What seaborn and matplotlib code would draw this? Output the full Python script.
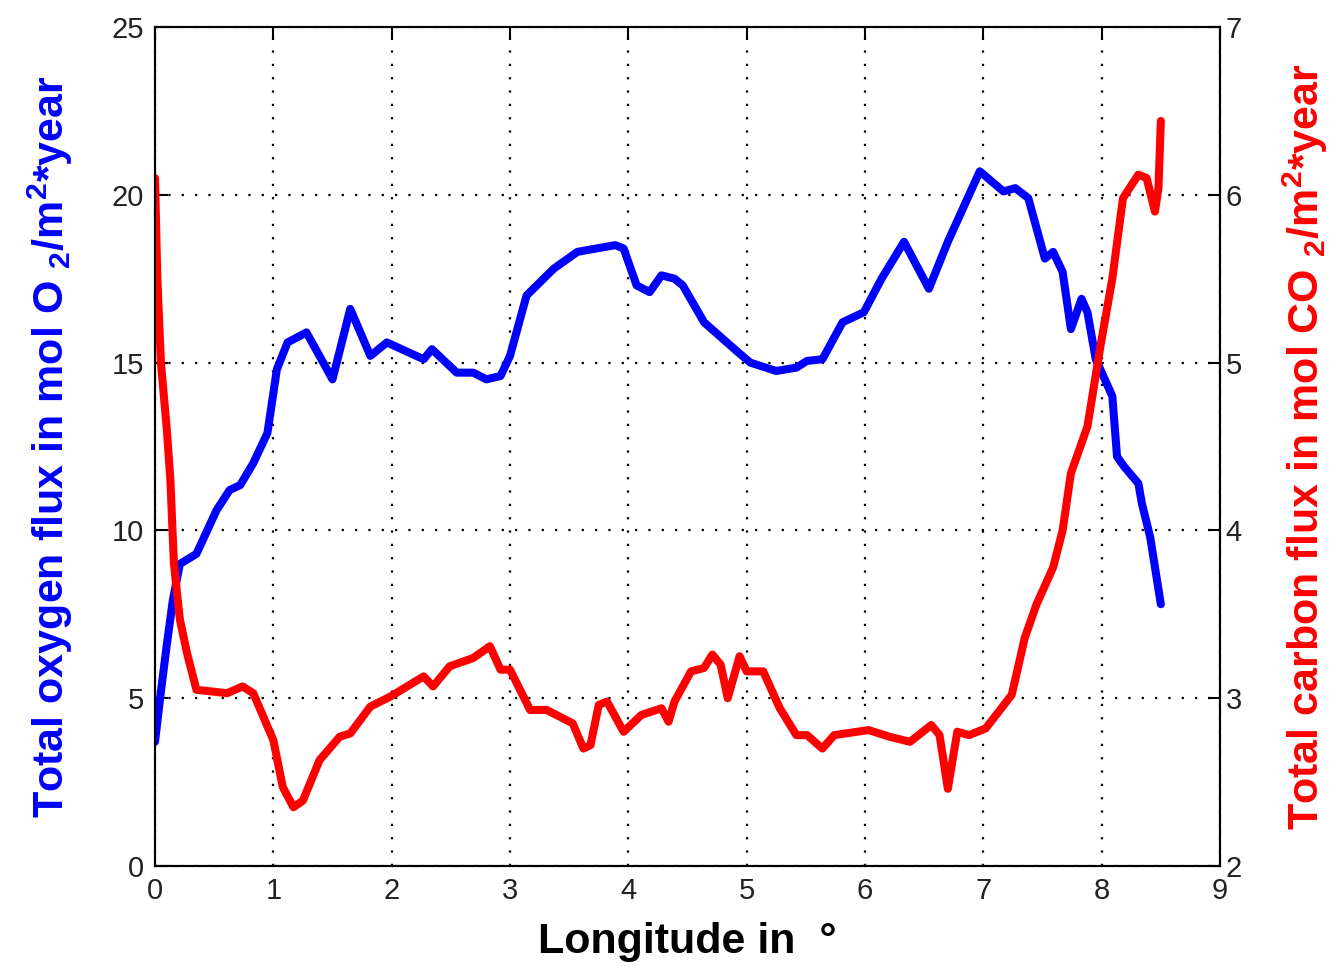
import matplotlib
matplotlib.use("Agg")
import matplotlib.pyplot as plt
import seaborn as sns
import pandas as pd

# ---- data ----
oxy_lon = [0, 0.05, 0.10, 0.15, 0.21, 0.35, 0.52, 0.63, 0.72, 0.83, 0.95, 1.03, 1.12, 1.28,
           1.50, 1.65, 1.82, 1.96, 2.27, 2.34, 2.55, 2.69, 2.80, 2.92, 3.0, 3.14, 3.37, 3.57,
           3.89, 3.96, 4.07, 4.18, 4.28, 4.39, 4.46, 4.64, 4.93, 5.03, 5.25, 5.42, 5.51, 5.64,
           5.81, 5.99, 6.14, 6.33, 6.54, 6.70, 6.97, 7.17, 7.27, 7.38, 7.52, 7.59, 7.67, 7.74,
           7.83, 7.88, 7.95, 8.09, 8.13, 8.19, 8.31, 8.34, 8.41, 8.50]
oxy_flux = [3.7, 5.2, 6.6, 7.9, 9.0, 9.3, 10.6, 11.2, 11.35, 12.0, 12.9, 14.8, 15.6, 15.9,
            14.5, 16.6, 15.2, 15.6, 15.1, 15.4, 14.7, 14.7, 14.5, 14.6, 15.2, 17.0, 17.8, 18.3,
            18.5, 18.4, 17.3, 17.1, 17.6, 17.5, 17.3, 16.2, 15.3, 15.0, 14.75, 14.85, 15.05, 15.1,
            16.2, 16.5, 17.5, 18.6, 17.2, 18.6, 20.7, 20.1, 20.2, 19.9, 18.1, 18.3, 17.7, 16.0,
            16.9, 16.5, 15.1, 14.0, 12.2, 11.9, 11.4, 10.8, 9.8, 7.8]

carb_lon = [0, 0.02, 0.05, 0.10, 0.13, 0.16, 0.21, 0.27, 0.35, 0.61, 0.74, 0.83, 1.0, 1.08,
            1.17, 1.25, 1.39, 1.56, 1.65, 1.82, 1.99, 2.27, 2.35, 2.49, 2.69, 2.83, 2.92, 3.0,
            3.17, 3.31, 3.53, 3.62, 3.68, 3.75, 3.82, 3.96, 4.11, 4.28, 4.34, 4.39, 4.53, 4.64,
            4.71, 4.78, 4.84, 4.94, 5.0, 5.14, 5.28, 5.42, 5.51, 5.64, 5.74, 6.03, 6.21, 6.38,
            6.56, 6.63, 6.70, 6.78, 6.88, 7.02, 7.13, 7.24, 7.35, 7.45, 7.59, 7.67, 7.74, 7.88,
            7.99, 8.09, 8.18, 8.31, 8.38, 8.45, 8.48, 8.50]
carb_flux = [6.1, 5.5, 5.0, 4.6, 4.3, 3.8, 3.47, 3.27, 3.05, 3.03, 3.07, 3.03, 2.75, 2.47,
             2.35, 2.39, 2.63, 2.77, 2.79, 2.95, 3.01, 3.13, 3.07, 3.19, 3.24, 3.31, 3.17, 3.17,
             2.93, 2.93, 2.85, 2.70, 2.72, 2.96, 2.98, 2.80, 2.90, 2.94, 2.86, 2.98, 3.16, 3.18,
             3.26, 3.20, 3.00, 3.25, 3.16, 3.16, 2.94, 2.78, 2.78, 2.70, 2.78, 2.81, 2.77, 2.74,
             2.84, 2.78, 2.46, 2.80, 2.78, 2.82, 2.92, 3.02, 3.36, 3.56, 3.78, 4.0, 4.34, 4.62,
             5.1, 5.5, 5.98, 6.12, 6.10, 5.90, 6.04, 6.44]

x_ticks = [0, 1, 2, 3, 4, 5, 6, 7, 8, 9]
left_ticks = [0, 5, 10, 15, 20, 25]
right_ticks = [2, 3, 4, 5, 6, 7]

sns.set_theme(style="white")
plt.rcParams['font.family'] = ['Liberation Sans', 'DejaVu Sans']
plt.rcParams['mathtext.fontset'] = 'custom'
plt.rcParams['mathtext.rm'] = 'Liberation Sans:bold'
plt.rcParams['mathtext.it'] = 'Liberation Sans:bold'
plt.rcParams['mathtext.bf'] = 'Liberation Sans:bold'

fig = plt.figure(figsize=(13.36, 9.66), dpi=100)
ax = fig.add_axes([155 / 1336, 1 - 866 / 966, (1220 - 155) / 1336, (866 - 27) / 966])
ax2 = ax.twinx()

df_o = pd.DataFrame({"lon": oxy_lon, "flux": oxy_flux})
df_c = pd.DataFrame({"lon": carb_lon, "flux": carb_flux})

sns.lineplot(data=df_o, x="lon", y="flux", ax=ax, color="#0000ff", lw=5.8, sort=False,
             estimator=None)
sns.lineplot(data=df_c, x="lon", y="flux", ax=ax2, color="#ff0000", lw=5.8, sort=False,
             estimator=None)

ax.set_xlim(0, 9)
ax.set_ylim(0, 25)
ax2.set_ylim(2, 7)
ax.set_xticks(x_ticks)
ax.set_yticks(left_ticks)
ax2.set_yticks(right_ticks)

grid_kw = dict(color="black", linestyle=(0, (1, 5)), linewidth=1.6)
ax.grid(True, **grid_kw)
ax.set_axisbelow(True)

for a in (ax, ax2):
    for s in a.spines.values():
        s.set_color("black")
        s.set_linewidth(1.5)

tick_kw = dict(direction="in", length=9, width=1.5, labelsize=21, colors="black",
               labelcolor="#222222")
ax.tick_params(axis="x", top=True, pad=8, **tick_kw)
ax.tick_params(axis="y", left=True, right=False, pad=8, **tick_kw)
ax2.tick_params(axis="y", right=True, pad=4, **tick_kw)

ax.set_xlabel("Longitude in  °", fontsize=31, fontweight="bold", color="black", labelpad=12)
ax.set_ylabel(r"Total oxygen flux in mol O $_2$/m$^2$*year", fontsize=31,
              fontweight="bold", color="#0000ff", labelpad=26)
ax2.set_ylabel(r"Total carbon flux in mol CO $_2$/m$^2$*year", fontsize=31,
               fontweight="bold", color="#ff0000", labelpad=28)

fig.savefig("out.png", dpi=100, facecolor="white")
